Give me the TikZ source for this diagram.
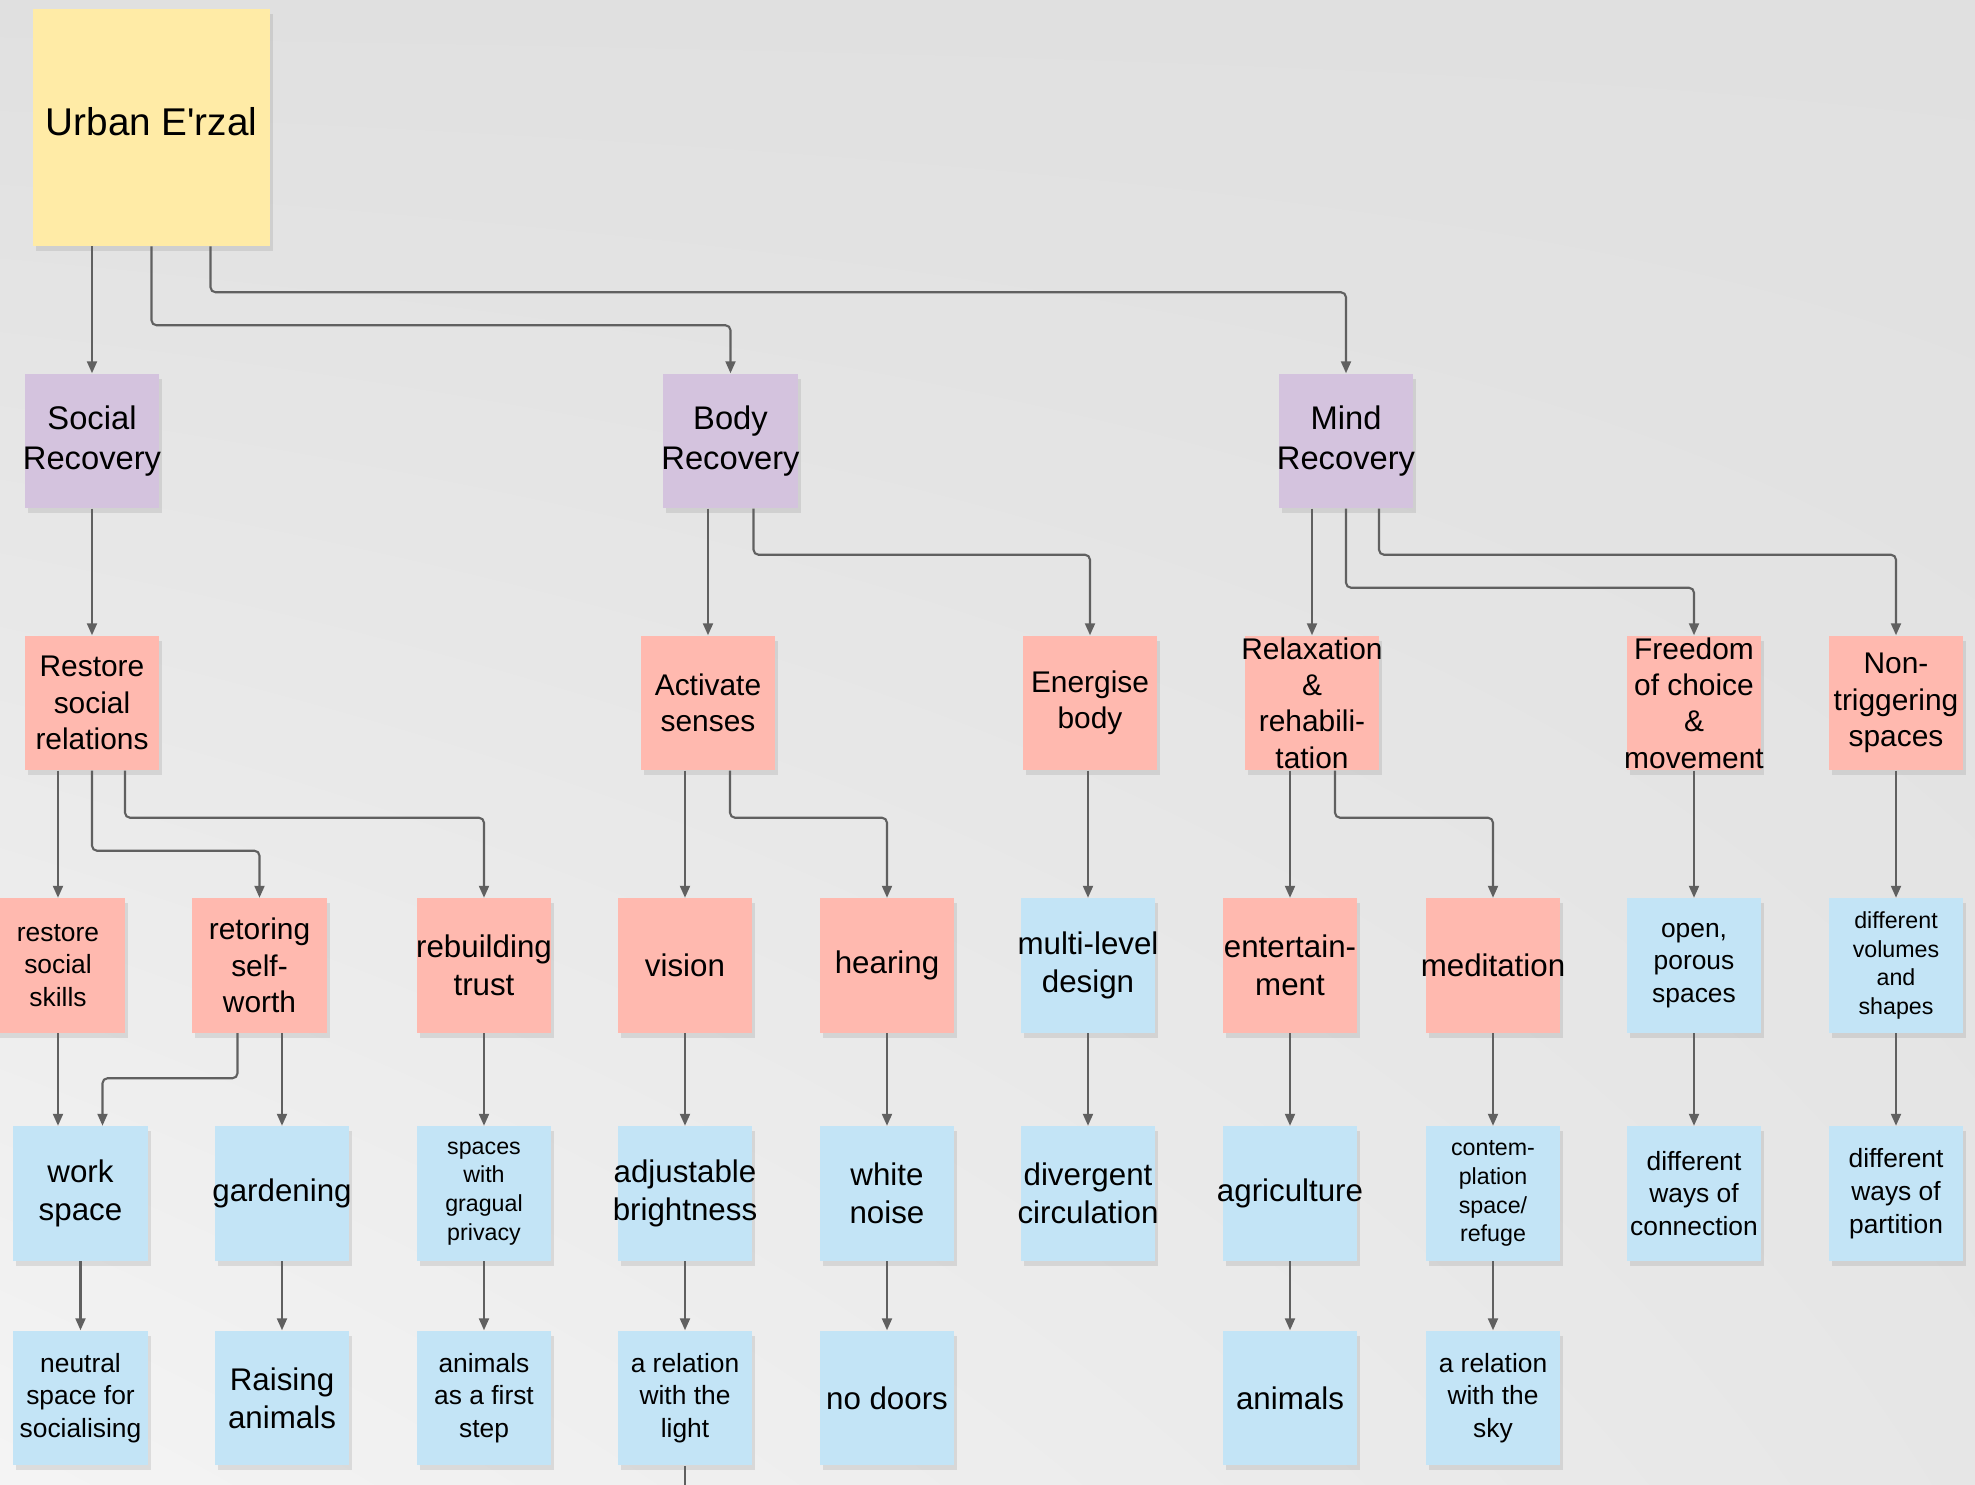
\documentclass[tikz,border=0pt]{standalone}
\usepackage{fontspec}
\setmainfont{Liberation Sans}
\usepackage{tikz}
\usetikzlibrary{arrows.meta,positioning,shadows,shadings,calc}

\definecolor{urbangelb}{RGB}{255,235,166}
\definecolor{lila}{RGB}{212,195,222}
\definecolor{lachs}{RGB}{255,185,175}
\definecolor{hellblau}{RGB}{195,228,246}
\definecolor{wand}{RGB}{224,224,224}
\definecolor{linie}{RGB}{96,96,96}

\newcommand\fsUrban{\fontsize{11}{13}\selectfont}
\newcommand\fsPillar{\fontsize{9.3}{11.4}\selectfont}
\newcommand\fsGoal{\fontsize{8.5}{10.3}\selectfont}
\newcommand\fsBig{\fontsize{8.9}{10.8}\selectfont}
\newcommand\fsMid{\fontsize{7.5}{9.3}\selectfont}
\newcommand\fsSmall{\fontsize{6.6}{8.2}\selectfont}

\begin{document}
\begin{tikzpicture}[x=0.01cm,y=-0.01cm]
		\tikzstyle{note}=[rectangle,minimum size=1.34cm,inner sep=0pt,drop shadow={opacity=0.2,shadow xshift=0.03cm,shadow yshift=-0.05cm}]
		\tikzstyle{urban}=[note,fill=urbangelb,minimum size=2.36cm]
		\tikzstyle{pillar}=[note,fill=lila]
		\tikzstyle{goal}=[note,fill=lachs]
		\tikzstyle{idea}=[note,fill=hellblau]
		\tikzstyle{t_urban}=[align=center,font=\fsUrban]
		\tikzstyle{t_pillar}=[align=center,font=\fsPillar]
		\tikzstyle{t_goal}=[align=center,font=\fsGoal]
		\tikzstyle{t_big}=[align=center,font=\fsBig]
		\tikzstyle{t_mid}=[align=center,font=\fsMid]
		\tikzstyle{t_small}=[align=center,font=\fsSmall]
		\tikzstyle{conn}=[draw=linie,line width=0.6pt,rounded corners=0.05cm,-{Triangle[length=0.12cm,width=0.1cm]}]
		
		\useasboundingbox (0,0) rectangle (1975,1485);
		\clip (0,0) rectangle (1975,1485);
		\shade[upper left=wand,upper right=wand,lower right=wand!80!white,lower left=wand!35!white] (0,0) rectangle (1975,1485);
		
		\node[urban,label={[t_urban,yshift=0.06cm]center:Urban E\textquotesingle rzal}] (urban) at (151.5,127.5) {};
		
		\node[pillar,label={[t_pillar]center:Social\\Recovery}] (social) at (92,441) {};
		\node[pillar,label={[t_pillar]center:Body\\Recovery}] (body) at (730.5,441) {};
		\node[pillar,label={[t_pillar]center:Mind\\Recovery}] (mind) at (1346,441) {};
		
		\node[goal,label={[t_goal]center:Restore\\social\\relations}] (restore) at (92,703) {};
		\node[goal,label={[t_goal]center:Activate\\senses}] (activate) at (708,703) {};
		\node[goal,label={[t_goal]center:Energise\\body}] (energise) at (1090,703) {};
		\node[goal,label={[t_goal]center:Relaxation\\\&\\rehabili-\\tation}] (relax) at (1312,703) {};
		\node[goal,label={[t_goal]center:Freedom\\of choice\\\&\\movement}] (freedom) at (1694,703) {};
		\node[goal,label={[t_goal]center:Non-\\triggering\\spaces}] (nontrig) at (1896,703) {};
		
		\node[goal,label={[t_mid]center:restore\\social\\skills}] (skills) at (58,965.5) {};
		\node[goal,label={[t_goal]center:retoring\\self-\\worth}] (selfworth) at (259.5,965.5) {};
		\node[goal,label={[t_big]center:rebuilding\\trust}] (trust) at (484,965.5) {};
		\node[goal,label={[t_big]center:vision}] (vision) at (685,965.5) {};
		\node[goal,label={[t_big]center:hearing}] (hearing) at (887,965.5) {};
		\node[idea,label={[t_big]center:multi-level\\design}] (multilevel) at (1088,965.5) {};
		\node[goal,label={[t_big]center:entertain-\\ment}] (entertain) at (1290,965.5) {};
		\node[goal,label={[t_big]center:meditation}] (meditation) at (1493,965.5) {};
		\node[idea,label={[t_mid]center:{open,\\porous\\spaces}}] (open) at (1694,965.5) {};
		\node[idea,label={[t_small]center:different\\volumes\\and\\shapes}] (volumes) at (1896,965.5) {};
		
		\node[idea,label={[t_big]center:work\\space}] (workspace) at (80.5,1193.5) {};
		\node[idea,label={[t_big]center:gardening}] (gardening) at (282,1193.5) {};
		\node[idea,label={[t_small]center:spaces\\with\\gragual\\privacy}] (privacy) at (484,1193.5) {};
		\node[idea,label={[t_big]center:adjustable\\brightness}] (brightness) at (685,1193.5) {};
		\node[idea,label={[t_big]center:white\\noise}] (noise) at (887,1193.5) {};
		\node[idea,label={[t_big]center:divergent\\circulation}] (circulation) at (1088,1193.5) {};
		\node[idea,label={[t_big]center:agriculture}] (agriculture) at (1290,1193.5) {};
		\node[idea,label={[t_small]center:contem-\\plation\\space/\\refuge}] (contemplation) at (1493,1193.5) {};
		\node[idea,label={[t_mid]center:different\\ways of\\connection}] (connection) at (1694,1193.5) {};
		\node[idea,label={[t_mid]center:different\\ways of\\partition}] (partition) at (1896,1193.5) {};
		
		\node[idea,label={[t_mid]center:neutral\\space for\\socialising}] (neutral) [below=0.69cm of workspace] {};
		\node[idea,label={[t_big]center:Raising\\animals}] (raising) [below=0.69cm of gardening] {};
		\node[idea,label={[t_mid]center:animals\\as a first\\step}] (firststep) [below=0.69cm of privacy] {};
		\node[idea,label={[t_mid]center:a relation\\with the\\light}] (light) [below=0.69cm of brightness] {};
		\node[idea,label={[t_big]center:no doors}] (nodoors) [below=0.69cm of noise] {};
		\node[idea,label={[t_big]center:animals}] (animals) [below=0.69cm of agriculture] {};
		\node[idea,label={[t_mid]center:a relation\\with the\\sky}] (sky) [below=0.69cm of contemplation] {};
		\coordinate (lightout) at ($(light.south)+(0,40)$);
		
		% Urban E'rzal -> recovery
		\draw[conn] (social |- urban.south) -- (social.north);
		\draw[conn] (urban.south) -- ++(0,79) -| (body.north);
		\draw[conn] ($(urban.south)+(59,0)$) -- ++(0,46) -| (mind.north);
		
		% recovery -> goals
		\draw[conn] (social.south) -- (restore.north);
		\draw[conn] (activate |- body.south) -- (activate.north);
		\draw[conn] ($(body.south)+(23,0)$) -- ++(0,46) -| (energise.north);
		\draw[conn] (relax |- mind.south) -- (relax.north);
		\draw[conn] (mind.south) -- ++(0,79) -| (freedom.north);
		\draw[conn] ($(mind.south)+(33,0)$) -- ++(0,46) -| (nontrig.north);
		
		% goals -> sub goals
		\draw[conn] (skills |- restore.south) -- (skills.north);
		\draw[conn] (restore.south) -- ++(0,80) -| (selfworth.north);
		\draw[conn] ($(restore.south)+(33,0)$) -- ++(0,47) -| (trust.north);
		\draw[conn] (vision |- activate.south) -- (vision.north);
		\draw[conn] ($(activate.south)+(22,0)$) -- ++(0,47) -| (hearing.north);
		\draw[conn] (multilevel |- energise.south) -- (multilevel.north);
		\draw[conn] (entertain |- relax.south) -- (entertain.north);
		\draw[conn] ($(relax.south)+(23,0)$) -- ++(0,47) -| (meditation.north);
		\draw[conn] (freedom.south) -- (open.north);
		\draw[conn] (nontrig.south) -- (volumes.north);
		
		% sub goals -> ideas
		\draw[conn] (skills.south) -- (skills.south |- workspace.north);
		\draw[conn] ($(selfworth.south)+(-22,0)$) -- ++(0,45) -| ($(workspace.north)+(22,0)$);
		\draw[conn] (gardening |- selfworth.south) -- (gardening.north);
		\draw[conn] (trust.south) -- (privacy.north);
		\draw[conn] (vision.south) -- (brightness.north);
		\draw[conn] (hearing.south) -- (noise.north);
		\draw[conn] (multilevel.south) -- (circulation.north);
		\draw[conn] (entertain.south) -- (agriculture.north);
		\draw[conn] (meditation.south) -- (contemplation.north);
		\draw[conn] (open.south) -- (connection.north);
		\draw[conn] (volumes.south) -- (partition.north);
		
		% ideas -> ideas
		\draw[conn] (workspace.south) -- (neutral.north);
		\draw[conn] (gardening.south) -- (raising.north);
		\draw[conn] (privacy.south) -- (firststep.north);
		\draw[conn] (brightness.south) -- (light.north);
		\draw[conn] (noise.south) -- (nodoors.north);
		\draw[conn] (agriculture.south) -- (animals.north);
		\draw[conn] (contemplation.south) -- (sky.north);
		\draw[conn,-] (light.south) -- (lightout);
	\end{tikzpicture}
\end{document}
